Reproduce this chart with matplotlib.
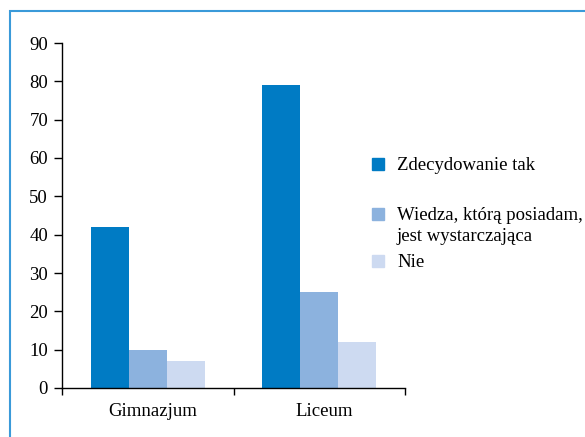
import matplotlib.pyplot as plt
from matplotlib.patches import Rectangle
from matplotlib.transforms import ScaledTranslation
import numpy as np

plt.rcParams['font.family'] = ['Liberation Serif', 'DejaVu Serif']
plt.rcParams['font.size'] = 13.5

# data
schools = ['Gimnazjum', 'Liceum']
answers = ['Zdecydowanie tak', 'Wiedza, którą posiadam,\njest wystarczająca', 'Nie']
values = [[42, 79], [10, 25], [7, 12]]
colors = ['#007bc4', '#8cb2de', '#cddaf1']

W, H = 585, 437
fig = plt.figure(figsize=(W / 100, H / 100), dpi=100)
ax = fig.add_axes([62 / W, 1 - 388 / H, 343 / W, 345 / H])

x = np.arange(len(schools))
w = 2 / 9
for i, (ans, vals) in enumerate(zip(answers, values)):
    ax.bar(x + (i - 1) * w, vals, width=w, color=colors[i], label=ans)

ax.set_xlim(-0.5, 1.5)
ax.set_ylim(0, 90)
ax.set_yticks(range(0, 91, 10))
ax.set_xticks(x)
ax.set_xticklabels(schools)
ax.set_xticks([-0.5, 0.5, 1.5], minor=True)
ax.tick_params(axis='x', which='major', length=0, pad=11)
ax.tick_params(axis='x', which='minor', length=5, width=1, direction='out')
ax.tick_params(axis='y', length=6, width=1, direction='out', pad=4)
# labels sit a little right of the group centres in the original
shift = ScaledTranslation(5 / 100, 0, fig.dpi_scale_trans)
for lab in ax.get_xticklabels():
    lab.set_transform(lab.get_transform() + shift)
for s in ['top', 'right']:
    ax.spines[s].set_visible(False)
ax.spines['left'].set_linewidth(1)
ax.spines['bottom'].set_linewidth(1)

# legend drawn by hand: square lined up with the first text line
leg_y = [164, 214, 261]
for ans, c, yy in zip(answers, colors, leg_y):
    fig.add_artist(Rectangle((372 / W, 1 - (yy + 6) / H), 12 / W, 12 / H,
                             transform=fig.transFigure, color=c))
    fig.text(397 / W, 1 - (yy - 7) / H, ans, va='top', ha='left',
             linespacing=1.3)

# blue frame around the chart
fig.add_artist(Rectangle((10 / W, -0.1), 1.2, 1 - 11 / H + 0.1,
                         transform=fig.transFigure, fill=False,
                         edgecolor='#3a9ad9', linewidth=1.5))

fig.savefig('out.png', dpi=100)
